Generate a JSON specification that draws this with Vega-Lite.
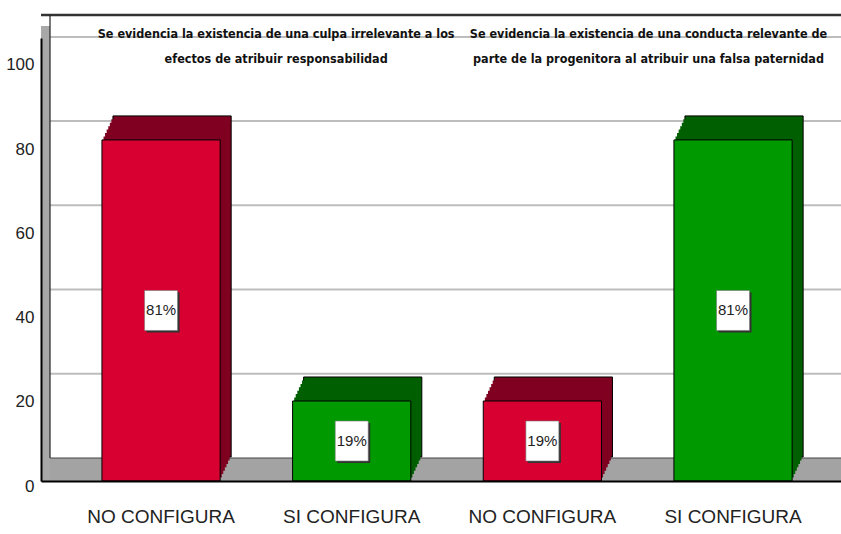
{
  "$schema": "https://vega.github.io/schema/vega-lite/v6.json",
  "width": 800,
  "height": 443,
  "autosize": {"type": "none"},
  "padding": {"left": 41, "top": 38, "right": 0, "bottom": 53},
  "background": "white",
  "config": {"view": {"stroke": null}, "font": "Liberation Sans"},
  "datasets": {
    "bars": [
      {"pos": "a", "cat": "NO CONFIGURA", "value": 81, "label": "81%"},
      {"pos": "b", "cat": "SI CONFIGURA", "value": 19, "label": "19%"},
      {"pos": "c", "cat": "NO CONFIGURA", "value": 19, "label": "19%"},
      {"pos": "d", "cat": "SI CONFIGURA", "value": 81, "label": "81%"}
    ],
    "titles": [
      {"pos": "a", "title": ["Se evidencia la existencia de una culpa irrelevante a los", "efectos de atribuir  responsabilidad"]},
      {"pos": "c", "title": ["Se evidencia la existencia de una conducta relevante de", "parte de la progenitora al atribuir una falsa paternidad"]}
    ],
    "grid": [{"g": 20}, {"g": 40}, {"g": 60}, {"g": 80}, {"g": 100}],
    "frame": [{"top": 105.2, "base": 0}]
  },
  "encoding": {
    "x": {
      "field": "pos", "type": "nominal", "title": null,
      "scale": {"domain": ["a", "b", "c", "d"], "paddingInner": 0.38, "paddingOuter": 0.288, "align": 0.555},
      "axis": {
        "labelExpr": "datum.value === 'a' || datum.value === 'c' ? 'NO CONFIGURA' : 'SI CONFIGURA'",
        "labelAngle": 0, "ticks": false, "domainColor": "#000", "domainWidth": 2,
        "labelFontSize": 19, "labelColor": "#222", "labelPadding": 26, "labelFont": "Liberation Sans", "zindex": 1
      }
    }
  },
  "layer": [
    {
      "data": {"name": "bars"},
      "encoding": {
        "y": {
          "field": "value", "type": "quantitative", "title": null,
          "scale": {"domain": [0, 105.2], "nice": false, "zero": true},
          "axis": {"values": [0, 20, 40, 60, 80, 100], "ticks": false, "grid": false, "domainColor": "#000", "domainWidth": 2,
                   "labelFontSize": 17, "labelColor": "#222", "labelPadding": 7, "labelOffset": 5, "labelFont": "Liberation Sans", "zindex": 1}
        }
      },
      "layer": [
        {
          "data": {"name": "grid"},
          "mark": {"type": "rule", "yOffset": -23, "color": "#BDBDBD", "strokeWidth": 2},
          "encoding": {"y": {"field": "g", "type": "quantitative"}, "x": null}
        },
        {
          "data": {"name": "frame"},
          "mark": {"type": "rule", "yOffset": -23, "color": "#333", "strokeWidth": 2.5},
          "encoding": {"y": {"field": "top", "type": "quantitative"}, "x": null}
        },
        {
          "data": {"name": "frame"},
          "mark": {"type": "rect", "color": "#A3A3A3", "y2Offset": -23},
          "encoding": {"x": {"value": 0}, "x2": {"value": "width"}, "y": {"field": "base", "type": "quantitative"}, "y2": {"field": "base"}}
        },
        {
          "data": {"name": "frame"},
          "mark": {"type": "rule", "yOffset": -23, "color": "#444", "strokeWidth": 1},
          "encoding": {"y": {"field": "base", "type": "quantitative"}, "x": null}
        },
        {
          "data": {"name": "frame"},
          "mark": {"type": "rect", "color": "#A8A8A8", "x2Offset": 9, "yOffset": -12},
          "encoding": {"x": {"value": 0}, "x2": {"value": 0}, "y": {"field": "top", "type": "quantitative"}, "y2": {"field": "base"}}
        },
        {
          "data": {"name": "frame"},
          "mark": {"type": "rule", "xOffset": 9, "yOffset": -23, "y2Offset": -23, "color": "#222", "strokeWidth": 1.2},
          "encoding": {"x": {"value": 0}, "y": {"field": "top", "type": "quantitative"}, "y2": {"field": "base"}}
        },
        {
          "mark": {"type": "bar", "xOffset": 11, "yOffset": -24, "y2Offset": -24, "stroke": "#000", "strokeWidth": 1},
          "encoding": {"color": {"condition": {"test": "datum.cat === 'NO CONFIGURA'", "value": "#7F0020"}, "value": "#005F00"}}
        },
        {
          "mark": {"type": "bar", "xOffset": 9.4, "yOffset": -20.6, "y2Offset": -20.6},
          "encoding": {"color": {"condition": {"test": "datum.cat === 'NO CONFIGURA'", "value": "#7F0020"}, "value": "#005F00"}}
        },
        {
          "mark": {"type": "bar", "xOffset": 7.9, "yOffset": -17.1, "y2Offset": -17.1},
          "encoding": {"color": {"condition": {"test": "datum.cat === 'NO CONFIGURA'", "value": "#7F0020"}, "value": "#005F00"}}
        },
        {
          "mark": {"type": "bar", "xOffset": 6.3, "yOffset": -13.7, "y2Offset": -13.7},
          "encoding": {"color": {"condition": {"test": "datum.cat === 'NO CONFIGURA'", "value": "#7F0020"}, "value": "#005F00"}}
        },
        {
          "mark": {"type": "bar", "xOffset": 4.7, "yOffset": -10.3, "y2Offset": -10.3},
          "encoding": {"color": {"condition": {"test": "datum.cat === 'NO CONFIGURA'", "value": "#7F0020"}, "value": "#005F00"}}
        },
        {
          "mark": {"type": "bar", "xOffset": 3.1, "yOffset": -6.9, "y2Offset": -6.9},
          "encoding": {"color": {"condition": {"test": "datum.cat === 'NO CONFIGURA'", "value": "#7F0020"}, "value": "#005F00"}}
        },
        {
          "mark": {"type": "bar", "xOffset": 1.6, "yOffset": -3.4, "y2Offset": -3.4},
          "encoding": {"color": {"condition": {"test": "datum.cat === 'NO CONFIGURA'", "value": "#7F0020"}, "value": "#005F00"}}
        },
        {
          "mark": {"type": "bar", "stroke": "#000", "strokeWidth": 1},
          "encoding": {"color": {"condition": {"test": "datum.cat === 'NO CONFIGURA'", "value": "#D70030"}, "value": "#009A00"}}
        },
        {
          "data": {"name": "titles"},
          "transform": [{"filter": "datum.pos === 'a'"}],
          "mark": {"type": "text", "align": "center", "baseline": "top", "dx": 56, "dy": -10, "fontSize": 12.5, "fontWeight": "bold", "lineHeight": 25, "font": "DejaVu Sans Condensed", "color": "#111"},
          "encoding": {"x": {"field": "pos", "type": "nominal", "bandPosition": 1}, "y": {"value": 0}, "text": {"field": "title"}}
        },
        {
          "data": {"name": "titles"},
          "transform": [{"filter": "datum.pos === 'c'"}],
          "mark": {"type": "text", "align": "center", "baseline": "top", "dx": 47, "dy": -10, "fontSize": 12.5, "fontWeight": "bold", "lineHeight": 25, "font": "DejaVu Sans Condensed", "color": "#111"},
          "encoding": {"x": {"field": "pos", "type": "nominal", "bandPosition": 1}, "y": {"value": 0}, "text": {"field": "title"}}
        }
      ]
    },
    {
      "data": {"name": "bars"},
      "encoding": {
        "y": {"field": "value", "type": "quantitative", "scale": {"domain": [0, 210.4], "nice": false, "zero": true}, "axis": null}
      },
      "layer": [
        {
          "mark": {"type": "point", "shape": "M-0.825,-1H0.825V1H-0.825Z", "size": 1600, "filled": true, "color": "#333", "opacity": 1, "xOffset": 2, "yOffset": 2}
        },
        {
          "mark": {"type": "point", "shape": "M-0.825,-1H0.825V1H-0.825Z", "size": 1600, "filled": true, "fill": "#fff", "stroke": "#777", "strokeWidth": 0.6, "opacity": 1}
        },
        {
          "mark": {"type": "text", "fontSize": 15, "font": "Liberation Sans", "color": "#222", "baseline": "middle", "align": "center"},
          "encoding": {"text": {"field": "label"}}
        }
      ]
    }
  ],
  "resolve": {"scale": {"y": "independent"}}
}
